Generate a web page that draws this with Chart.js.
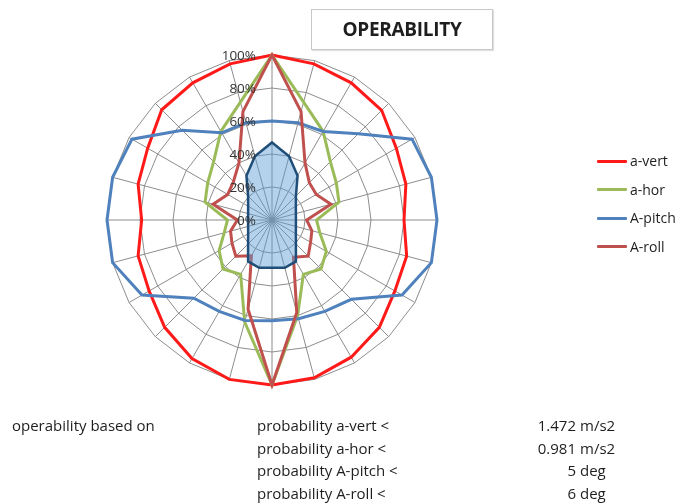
<!DOCTYPE html>
<html>
<head>
<meta charset="utf-8">
<script src="https://cdn.jsdelivr.net/npm/chart.js@4.4.1/dist/chart.umd.min.js"></script>
<style>
  body { margin: 0; background: #fff; font-family: "Open Sans", Lato, sans-serif; color: #1e1e1e; }
  #wrap { position: absolute; left: 0; top: 0; width: 697px; height: 504px; }
  .title { position: absolute; left: 311px; top: 9px; width: 180px; height: 39px; border: 1px solid #c8c8c8;
           box-shadow: 1px 1px 1px #e0e0e0; font-weight: bold; font-size: 19px; text-align: center; line-height: 39px; color: #1e1e1e; letter-spacing: -0.3px; }
  .leg { position: absolute; left: 597px; font-size: 14px; white-space: nowrap; }
  .leg span.ln { position: absolute; left: 0; top: -1.5px; width: 30px; height: 3px; border-radius: 1px; }
  .leg span.tx { position: absolute; left: 33px; top: -10px; line-height: 19px; }
  .t { position: absolute; font-size: 15px; line-height: 19px; white-space: nowrap; }
</style>
</head>
<body>
<div id="wrap"><canvas id="chart"></canvas></div>
<div class="title">OPERABILITY</div>
<div id="legend"></div>
<div id="notes"></div>
<script>
// direction of the wave in degrees (hidden category labels)
const headings = ['0','15','30','45','60','75','90','105','120','135','150','165',
                  '180','195','210','225','240','255','270','285','300','315','330','345']

const aVert  = [1.00,0.98,0.96,0.94,0.87,0.84,0.80,0.845,0.86,0.92,0.96,0.99,
                1.00,1.00,0.97,0.92,0.86,0.84,0.79,0.84,0.87,0.945,0.96,0.98]
const aHor   = [1.00,0.74,0.62,0.50,0.45,0.42,0.27,0.30,0.38,0.42,0.38,0.60,
                1.00,0.64,0.38,0.42,0.37,0.30,0.27,0.42,0.45,0.50,0.62,0.74]
const aPitch = [0.60,0.61,0.62,0.74,0.98,1.00,1.00,1.00,0.91,0.68,0.64,0.62,
                0.61,0.63,0.64,0.67,0.91,1.00,1.00,1.00,0.98,0.77,0.61,0.61]
const aRoll  = [1.00,0.68,0.40,0.32,0.31,0.37,0.21,0.25,0.27,0.31,0.26,0.58,
                1.00,0.56,0.25,0.31,0.28,0.26,0.21,0.37,0.31,0.33,0.40,0.68]
// ship outline drawn in the middle
const hull   = [0.47,0.40,0.31,0.205,0.167,0.15,0.145,0.15,0.167,0.205,0.29,0.30,
                0.29,0.30,0.29,0.205,0.167,0.15,0.145,0.15,0.167,0.205,0.31,0.40]

const tickValues = [0, 0.2, 0.4, 0.6, 0.8, 1.0]

const seriesNames  = ['a-vert', 'a-hor', 'A-pitch', 'A-roll']
const seriesColors = ['#ff1a1a', '#9bbb59', '#4f81bd', '#c0504d']

const noteLabels = ['probability a-vert <', 'probability a-hor <', 'probability A-pitch <', 'probability A-roll <']
const noteValues = ['1.472', '0.981', '5', '6']
const noteUnits  = ['m/s2', 'm/s2', 'deg', 'deg']

const ctx = document.getElementById('chart').getContext('2d')

const tickText = {
  id: 'tickText',
  afterDatasetsDraw(chart) {
    const r = chart.scales.r
    const c = chart.ctx
    c.save()
    c.font = '13.5px "Open Sans", sans-serif'
    c.fillStyle = '#333333'
    c.textAlign = 'right'
    c.textBaseline = 'middle'
    tickValues.forEach(v => {
      const d = r.getDistanceFromCenterForValue(v)
      c.fillText(Math.round(v * 100) + '%', r.xCenter - 16, r.yCenter - d + 1)
    })
    c.restore()
  }
}

const seriesData = [aVert, aHor, aPitch, aRoll]
const datasets = [{
  label: 'hull',
  data: hull,
  borderColor: '#1f4e79',
  backgroundColor: 'rgba(91,155,213,0.45)',
  borderWidth: 2.5,
  fill: true,
  pointRadius: 0
}]
seriesData.forEach((d, i) => {
  datasets.push({
    label: seriesNames[i],
    data: d,
    borderColor: seriesColors[i],
    backgroundColor: 'transparent',
    borderWidth: 3,
    fill: false,
    pointRadius: 0
  })
})
// later series in Excel sit on top, so reverse draw order
datasets.forEach((d, i) => d.order = i === 0 ? 0 : 10 - i)

const myChart = new Chart(ctx, {
  type: 'radar',
  data: { labels: headings, datasets },
  options: {
    responsive: true,
    maintainAspectRatio: false,
    animation: false,
    layout: { padding: { left: 107, top: 55, right: 260, bottom: 119 } },
    plugins: { legend: { display: false }, tooltip: { enabled: false } },
    elements: { line: { tension: 0, borderJoinStyle: 'miter' } },
    scales: {
      r: {
        min: 0,
        max: 1,
        ticks: { stepSize: 0.2, display: false },
        pointLabels: { display: false },
        grid: { color: '#8c8c8c', lineWidth: 1 },
        angleLines: { color: '#8c8c8c', lineWidth: 1 }
      }
    }
  },
  plugins: [tickText]
})

// legend
const legendTops = [161, 189.5, 218, 246.5]
const legend = document.getElementById('legend')
seriesNames.forEach((n, i) => {
  const el = document.createElement('div')
  el.className = 'leg'
  el.style.top = legendTops[i] + 'px'
  el.innerHTML = '<span class="ln" style="background:' + seriesColors[i] + '"></span><span class="tx">' + n + '</span>'
  legend.appendChild(el)
})

// notes under the chart
const notes = document.getElementById('notes')
const rowTops = [416, 438.5, 461, 483.5]
function addText(txt, left, top, align) {
  const el = document.createElement('div')
  el.className = 't'
  el.textContent = txt
  el.style.top = top + 'px'
  if (align === 'right') {
    el.style.right = (697 - left) + 'px'
  } else {
    el.style.left = left + 'px'
  }
  notes.appendChild(el)
}
addText('operability based on', 12, rowTops[0])
noteLabels.forEach((l, i) => {
  addText(l, 257, rowTops[i])
  addText(noteValues[i], 576, rowTops[i], 'right')
  addText(noteUnits[i], 580, rowTops[i])
})
</script>
</body>
</html>
